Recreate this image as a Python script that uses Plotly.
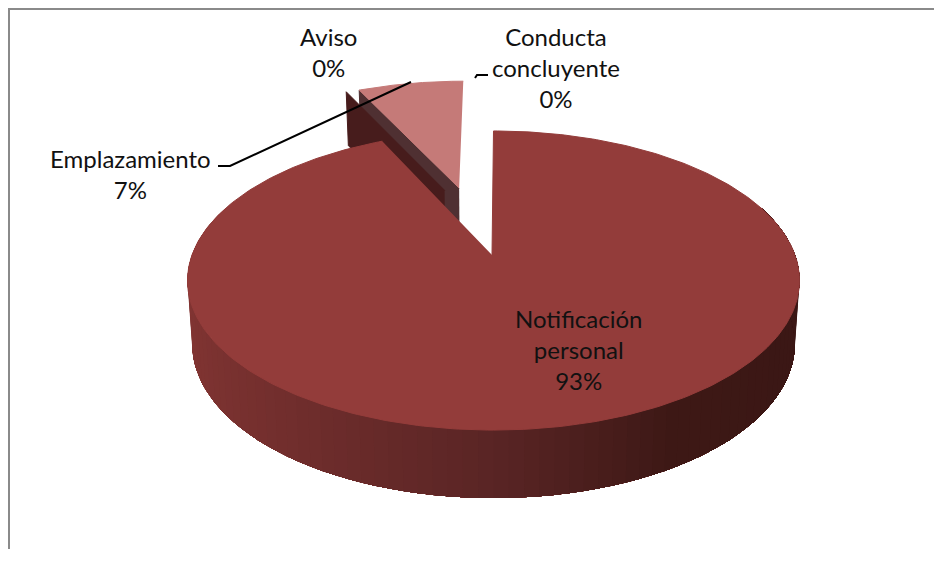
import numpy as np
import plotly.graph_objects as go

# Data
categories = ["Notificación<br>personal", "Aviso", "Conducta<br>concluyente", "Emplazamiento"]
values = [93, 0, 0, 7]
slice_colors = ["#933C3A", "#471C1C", "#471C1C", "#C57A78"]
wall_colors = ["#5A2525", "#471C1C", "#471C1C", "#4F3032"]
label_pos = [(578, 349), (328, 52), (556, 67), (130, 174)]

# Projection of the tilted 3-D pie into page pixels
EXPLODE = 0.25
W, H = 934, 565
APEX_X, APEX_Y = 492, 255      # where the big slice's tip lands
SCALE_X, SCALE_Y, PERSP = 301.5, 145.2, 0.1706
BOTTOM_SHRINK = 0.985
MAIN_NUDGE_X = 1.5             # the big slice's rim sits slightly right of its tip
BACK_NUDGE = (-2.5, -1.5)      # the far slices sit slightly further up and left

total = sum(values)
edges = np.cumsum([0] + values) / total * 2 * np.pi


def offset(i):
    mid = (edges[i] + edges[i + 1]) / 2
    return EXPLODE * np.sin(mid), -EXPLODE * np.cos(mid)


REF_U, REF_V = offset(0)


def project(u, v, bottom=False):
    du, dv = np.asarray(u) - REF_U, np.asarray(v) - REF_V
    w = 1 - PERSP * dv
    if not bottom:
        return APEX_X + SCALE_X * du / w, APEX_Y + SCALE_Y * dv / w
    return (APEX_X + BOTTOM_SHRINK * SCALE_X * du / w,
            APEX_Y + SCALE_Y * dv / w + 62 + 6 * dv)


def rim(i, t):
    ou, ov = offset(i)
    return ou + np.sin(t), ov - np.cos(t)


def poly(xs, ys, color, width=1):
    return go.Scatter(x=list(xs), y=list(ys), mode="lines", fill="toself", fillcolor=color,
                      line=dict(color=color, width=width), hoverinfo="skip",
                      showlegend=False)


def top_face(i, nudge=(0, 0)):
    ou, ov = offset(i)
    t = np.linspace(edges[i], edges[i + 1], 240)
    u, v = rim(i, t)
    x, y = project(np.r_[ou, u], np.r_[ov, v])
    return poly(x + nudge[0], y + nudge[1], slice_colors[i])


def cut_wall(i, t0, nudge=(0, 0)):
    ou, ov = offset(i)
    u, v = rim(i, np.array([t0]))
    xt, yt = project(np.r_[ou, u], np.r_[ov, v])
    xb, yb = project(np.r_[ou, u], np.r_[ov, v], bottom=True)
    return poly(np.r_[xt, xb[::-1]] + nudge[0], np.r_[yt, yb[::-1]] + nudge[1], wall_colors[i])


def shade(s):
    stops_u = [-1.0, 0.0, 0.5, 1.0]
    stops = np.array([[0x82, 0x35, 0x33], [0x5A, 0x25, 0x25], [0x3E, 0x19, 0x16], [0x3B, 0x17, 0x15]])
    c = [int(np.interp(s, stops_u, stops[:, k])) for k in range(3)]
    return f"rgb({c[0]},{c[1]},{c[2]})"


fig = go.Figure()

# Emplazamiento: cut wall then top
fig.add_trace(cut_wall(3, edges[3], BACK_NUDGE))
fig.add_trace(top_face(3, BACK_NUDGE))
# Zero-width slices only show as a thin vertical wall
fig.add_trace(cut_wall(1, edges[1], BACK_NUDGE))

# Curved side of the big slice: painted from right to left, each strip reaching under the next
strip_edges = np.linspace(np.radians(290), np.radians(70), 91)
for k in range(len(strip_edges) - 1):
    t = np.linspace(strip_edges[k], np.radians(70), 2 + (len(strip_edges) - 2 - k))
    u, v = rim(0, t)
    xt, yt = project(u, v)
    xb, yb = project(u, v, bottom=True)
    mid = (strip_edges[k] + strip_edges[k + 1]) / 2
    fig.add_trace(poly(np.r_[xt, xb[::-1]] + MAIN_NUDGE_X, np.r_[yt, yb[::-1]],
                       shade(np.sin(mid)), width=0))

# Top of the big slice: rim nudged, tip left in place
ou, ov = offset(0)
t_main = np.linspace(edges[0], edges[1], 360)
u_main, v_main = rim(0, t_main)
x_main, y_main = project(u_main, v_main)
x_tip, y_tip = project(np.array([ou]), np.array([ov]))
fig.add_trace(poly(np.r_[x_tip, x_main + MAIN_NUDGE_X], np.r_[y_tip, y_main], slice_colors[0]))

# Leader lines
fig.add_trace(go.Scatter(x=[218, 230, 411], y=[166, 166, 82], mode="lines",
                         line=dict(color="black", width=2), hoverinfo="skip", showlegend=False))
fig.add_trace(go.Scatter(x=[475, 477, 488], y=[78, 75, 75], mode="lines",
                         line=dict(color="black", width=2), hoverinfo="skip", showlegend=False))

annotations = [
    dict(x=px, y=py, text=f"{name}<br>{val}%", showarrow=False, xanchor="center", yanchor="middle",
         font=dict(family="Lato", size=24, color="#111111"), align="center")
    for name, val, (px, py) in zip(categories, values, label_pos)
]

frame = [
    dict(type="line", x0=8, x1=W, y0=9, y1=9, line=dict(color="#8A8A8A", width=2)),
    dict(type="line", x0=9, x1=9, y0=8, y1=549, line=dict(color="#8A8A8A", width=2)),
]

fig.update_layout(
    width=W, height=H, margin=dict(l=0, r=0, t=0, b=0),
    paper_bgcolor="white", plot_bgcolor="white",
    xaxis=dict(range=[0, W], visible=False, fixedrange=True),
    yaxis=dict(range=[H, 0], visible=False, fixedrange=True),
    annotations=annotations, shapes=frame, showlegend=False,
)
fig.write_html("out.html", config={"displayModeBar": False},
               post_script="document.body.style.margin='0';document.body.style.overflow='hidden';")
